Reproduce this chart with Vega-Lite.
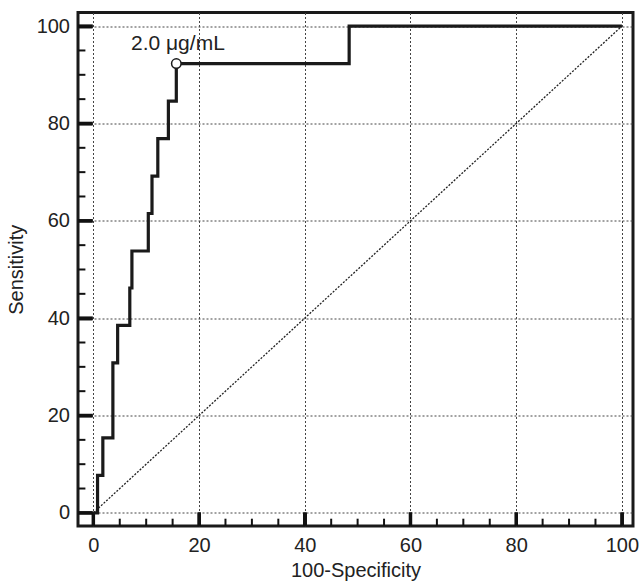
{
  "$schema": "https://vega.github.io/schema/vega-lite/v6.json",
  "width": 555,
  "height": 513.5,
  "autosize": {"type": "none"},
  "padding": {"left": 78, "top": 12.5, "right": 10, "bottom": 59},
  "background": "white",
  "config": {
    "view": {"stroke": "#1a1a1a", "strokeWidth": 3},
    "font": "Liberation Sans",
    "axis": {
      "labelFont": "Liberation Sans",
      "titleFont": "Liberation Sans",
      "labelFontSize": 20,
      "titleFontSize": 20,
      "titleFontWeight": "normal",
      "labelColor": "#222",
      "titleColor": "#222",
      "domain": false,
      "gridColor": "#444",
      "gridWidth": 1,
      "gridDash": [2, 2]
    }
  },
  "datasets": {
    "roc": [
      {"i": 0, "fpr": 0, "sens": 0},
      {"i": 1, "fpr": 0.8, "sens": 0},
      {"i": 2, "fpr": 0.8, "sens": 7.7},
      {"i": 3, "fpr": 1.8, "sens": 7.7},
      {"i": 4, "fpr": 1.8, "sens": 15.4},
      {"i": 5, "fpr": 3.7, "sens": 15.4},
      {"i": 6, "fpr": 3.7, "sens": 30.8},
      {"i": 7, "fpr": 4.6, "sens": 30.8},
      {"i": 8, "fpr": 4.6, "sens": 38.5},
      {"i": 9, "fpr": 6.9, "sens": 38.5},
      {"i": 10, "fpr": 6.9, "sens": 46.2},
      {"i": 11, "fpr": 7.3, "sens": 46.2},
      {"i": 12, "fpr": 7.3, "sens": 53.8},
      {"i": 13, "fpr": 10.4, "sens": 53.8},
      {"i": 14, "fpr": 10.4, "sens": 61.5},
      {"i": 15, "fpr": 11.1, "sens": 61.5},
      {"i": 16, "fpr": 11.1, "sens": 69.2},
      {"i": 17, "fpr": 12.2, "sens": 69.2},
      {"i": 18, "fpr": 12.2, "sens": 76.9},
      {"i": 19, "fpr": 14.2, "sens": 76.9},
      {"i": 20, "fpr": 14.2, "sens": 84.6},
      {"i": 21, "fpr": 15.7, "sens": 84.6},
      {"i": 22, "fpr": 15.7, "sens": 92.3},
      {"i": 23, "fpr": 48.4, "sens": 92.3},
      {"i": 24, "fpr": 48.4, "sens": 100},
      {"i": 25, "fpr": 100, "sens": 100}
    ],
    "diag": [
      {"fpr": 0, "sens": 0},
      {"fpr": 100, "sens": 100}
    ],
    "cut": [
      {"fpr": 15.7, "sens": 92.3, "label": "2.0 μg/mL", "lx": 16, "ly": 95.1}
    ],
    "majorTicks": [{"v": 0}, {"v": 20}, {"v": 40}, {"v": 60}, {"v": 80}, {"v": 100}],
    "minorTicks": [{"v": 5}, {"v": 10}, {"v": 15}, {"v": 25}, {"v": 30}, {"v": 35}, {"v": 45}, {"v": 50}, {"v": 55}, {"v": 65}, {"v": 70}, {"v": 75}, {"v": 85}, {"v": 90}, {"v": 95}]
  },
  "resolve": {"axis": {"x": "independent", "y": "independent"}},
  "layer": [
    {
      "data": {"name": "diag"},
      "mark": {"type": "line", "color": "#222", "strokeWidth": 1.3, "strokeDash": [2, 1.5]},
      "encoding": {
        "x": {
          "field": "fpr", "type": "quantitative",
          "scale": {"domain": [-2.9, 102.1], "nice": false, "zero": false},
          "title": null,
          "axis": {"orient": "bottom", "values": [0, 20, 40, 60, 80, 100], "ticks": false, "labels": false, "grid": true}
        },
        "y": {
          "field": "sens", "type": "quantitative",
          "scale": {"domain": [-2.7, 102.8], "nice": false, "zero": false},
          "title": null,
          "axis": {"orient": "left", "values": [0, 20, 40, 60, 80, 100], "ticks": false, "labels": false, "grid": true}
        }
      }
    },
    {
      "data": {"name": "majorTicks"},
      "mark": {"type": "rule", "color": "#111", "strokeWidth": 3.5},
      "encoding": {
        "x": {"field": "v", "type": "quantitative", "axis": null},
        "y": {"datum": -2.7, "type": "quantitative", "axis": null},
        "y2": {"datum": 0.1}
      }
    },
    {
      "data": {"name": "minorTicks"},
      "mark": {"type": "rule", "color": "#111", "strokeWidth": 2},
      "encoding": {
        "x": {"field": "v", "type": "quantitative", "axis": null},
        "y": {"datum": -2.7, "type": "quantitative", "axis": null},
        "y2": {"datum": -1.2}
      }
    },
    {
      "data": {"name": "majorTicks"},
      "mark": {"type": "rule", "color": "#111", "strokeWidth": 3.5},
      "encoding": {
        "y": {"field": "v", "type": "quantitative", "axis": null},
        "x": {"datum": -2.9, "type": "quantitative", "axis": null},
        "x2": {"datum": -0.1}
      }
    },
    {
      "data": {"name": "minorTicks"},
      "mark": {"type": "rule", "color": "#111", "strokeWidth": 2},
      "encoding": {
        "y": {"field": "v", "type": "quantitative", "axis": null},
        "x": {"datum": -2.9, "type": "quantitative", "axis": null},
        "x2": {"datum": -1.5}
      }
    },
    {
      "data": {"name": "roc"},
      "mark": {"type": "line", "color": "#1a1a1a", "strokeWidth": 3.2},
      "encoding": {
        "x": {
          "field": "fpr", "type": "quantitative", "title": "100-Specificity",
          "axis": {
            "orient": "bottom",
            "values": [0, 20, 40, 60, 80, 100],
            "offset": -14,
            "tickSize": 14,
            "tickWidth": 3,
            "tickColor": "#1a1a1a",
            "grid": false,
            "labelPadding": 9,
            "titlePadding": 5
          }
        },
        "y": {
          "field": "sens", "type": "quantitative", "title": "Sensitivity",
          "axis": {
            "orient": "left",
            "values": [0, 20, 40, 60, 80, 100],
            "offset": -14,
            "tickSize": 14,
            "tickWidth": 3,
            "tickColor": "#1a1a1a",
            "grid": false,
            "labelPadding": 8.5,
            "titlePadding": 10
          }
        },
        "order": {"field": "i", "type": "quantitative"}
      }
    },
    {
      "data": {"name": "cut"},
      "mark": {"type": "point", "shape": "circle", "filled": true, "fill": "white", "stroke": "#1a1a1a", "strokeWidth": 1.5, "size": 90, "opacity": 1},
      "encoding": {
        "x": {"field": "fpr", "type": "quantitative", "axis": null},
        "y": {"field": "sens", "type": "quantitative", "axis": null}
      }
    },
    {
      "data": {"name": "cut"},
      "mark": {"type": "text", "font": "Liberation Sans", "fontSize": 21, "color": "#222", "align": "center", "baseline": "alphabetic"},
      "encoding": {
        "x": {"field": "lx", "type": "quantitative", "axis": null},
        "y": {"field": "ly", "type": "quantitative", "axis": null},
        "text": {"field": "label"}
      }
    }
  ]
}
